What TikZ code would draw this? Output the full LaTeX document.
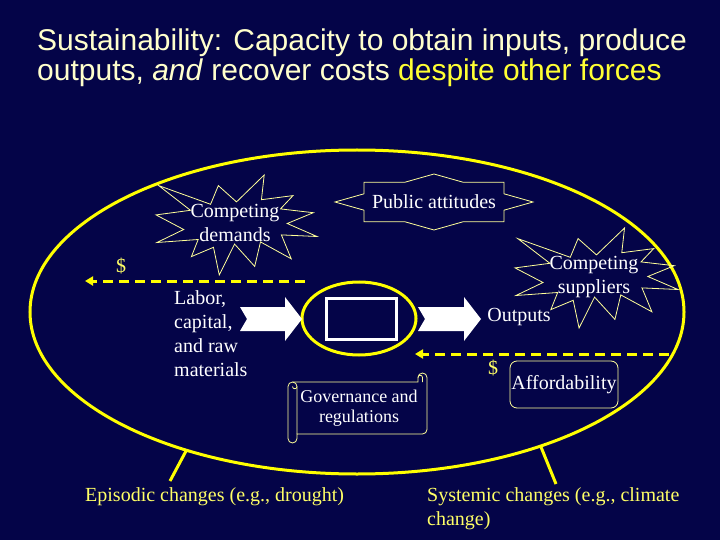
\documentclass[tikz,border=0pt]{standalone}
\usepackage{fontspec}
\setmainfont{Liberation Serif}
\newfontfamily\titlefont{Liberation Sans}
\usetikzlibrary{calc,shapes.geometric,arrows.meta}
\definecolor{navy}{RGB}{4,4,72}
\definecolor{paleyellow}{RGB}{255,255,204}
\definecolor{hiyellow}{RGB}{255,255,51}
\definecolor{lineyellow}{RGB}{255,255,0}
\definecolor{labelyellow}{RGB}{255,255,102}
\definecolor{edgeyellow}{RGB}{255,255,153}
\def\explosion[#1](#2,#3)(#4,#5){\draw[#1,shift={(#2,#3)},x=#4pt/100,y=-#5pt/100] (50,26.9) -- (67.2,0) -- (65.5,24.7) -- (85.1,20.6) -- (77.3,33.9) -- (97.7,37.7) -- (81.5,48.5) -- (100,61.5) -- (77.9,59.9) -- (84,83.8) -- (64.9,66.9) -- (61.3,91.4) -- (48.8,69.1) -- (39.3,100) -- (35.7,72.3) -- (22,81.6) -- (26.2,64.5) -- (0.6,67.5) -- (17.2,54.5) -- (0,39.9) -- (21.4,35.3) -- (1.7,10.6) -- (33.9,29.3) -- (38.7,10.6) -- cycle;}

\begin{document}
\begin{tikzpicture}[x=1pt,y=-1pt,
	txt/.style={text=white, inner sep=0pt, font=\fontsize{20}{24}\selectfont},
	titletxt/.style={text=paleyellow, inner sep=0pt, font=\titlefont\fontsize{30}{31}\selectfont},
	yellowtxt/.style={text=labelyellow, inner sep=0pt, font=\fontsize{20}{24}\selectfont},
	edge/.style={draw=edgeyellow, line width=0.8pt},
	ring/.style={draw=lineyellow, line width=3pt, ellipse, inner sep=0pt},
	cashflow/.style={lineyellow, line width=3pt, dash pattern=on 10pt off 6pt, -{Triangle[length=8pt,width=9pt]}},
	pointer/.style={lineyellow, line width=3pt}]
		%%%%% START %%%%%
		\fill[navy] (0,0) rectangle (720,540);
		
		\node[titletxt, anchor=base west] (head) at (37,51) {Sustainability: Capacity to obtain inputs, produce};
		\node[titletxt, anchor=base west] (headb) at (37,81) {outputs, \textit{and} recover costs \textcolor{hiyellow}{despite other forces}};
		
		\node[ring, minimum width=654pt, minimum height=324pt] (system) at (357,312) {};
		\node[ring, minimum width=114pt, minimum height=73pt] (core) at (359,318.5) {};
		\node[draw=white, line width=3pt, fill=navy, minimum width=70pt, minimum height=41pt] (unit) at (361.5,318.5) {};
		
		\fill[white] (240,307) -- (285,307) -- (285,297) -- (302,319) -- (285,341) -- (285,331) -- (240,331) -- (247,319) -- cycle;
		\fill[white] (418,307) -- (464,307) -- (464,297) -- (481,319) -- (464,341) -- (464,331) -- (418,331) -- (425,319) -- cycle;
		
		\explosion[edge](156,175)(161,100)
		\node[txt, align=center] (demands) at (235,223) {Competing\\demands};
		\explosion[edge](515,228)(163,100)
		\node[txt, align=center] (suppliers) at (594,277) {Competing\\suppliers};
		
		\node[txt] (public) at (434,202) {Public attitudes};
		\draw[edge] plot[samples at={0,...,15}] ({434+99*(1-0.235*mod(\x,2))*cos(\x*22.5)}, {202+28*(1-0.235*mod(\x,2))*sin(\x*22.5)}) -- cycle;
		
		\node[txt, align=left, anchor=west] (inputs) at (174,334) {Labor,\\capital,\\and raw\\materials};
		\node[txt] (outputs) at (519,317) {Outputs};
		
		\node[yellowtxt] (cashL) at (121,266) {\$};
		\node[yellowtxt] (cashR) at (493,368) {\$};
		\coordinate (payA) at (305,281);
		\coordinate (payB) at (85,281);
		\coordinate (payC) at (669,354);
		\coordinate (payD) at (415,354);
		\draw[cashflow] (payA) -- (payB);
		\draw[cashflow] (payC) -- (payD);
		
		\node[txt, draw=edgeyellow, line width=0.8pt, rounded corners=7pt, minimum width=108pt, minimum height=47pt] (afford) at (564,384.5) {Affordability};
		
		\draw[edge, fill=navy] (288,386.5) arc[start angle=180, end angle=270, radius=4.5] -- (418,382) -- (418,377.5) arc[start angle=180, end angle=360, radius=4.5] -- (427,429.5) arc[start angle=0, end angle=90, radius=4.5] -- (297,434) -- (297,438.5) arc[start angle=0, end angle=180, radius=4.5] -- cycle;
		\draw[edge] (292.5,382) arc[start angle=270, end angle=360, radius=4.5] -- (297,434);
		\draw[edge] (297,386.5) arc[start angle=0, end angle=180, radius=2.25];
		\draw[edge] (422.5,382) -- (422.5,377.5) arc[start angle=0, end angle=-180, radius=2.25];
		\node[txt, align=center, font=\fontsize{18}{20.5}\selectfont] (gov) at (359,408) {Governance and\\regulations};
		
		\node[yellowtxt, anchor=west] (episodic) at (85,497) {Episodic changes (e.g., drought)};
		\node[yellowtxt, anchor=west, align=left] (systemic) at (427,509) {Systemic changes (e.g., climate\\change)};
		\coordinate (epiTop) at (186,451);
		\coordinate (epiEnd) at (170,481);
		\coordinate (sysTop) at (541,447);
		\coordinate (sysEnd) at (556,484);
		\draw[pointer] (epiTop) -- (epiEnd);
		\draw[pointer] (sysTop) -- (sysEnd);
		%%%%% END %%%%%
	\end{tikzpicture}
\end{document}
